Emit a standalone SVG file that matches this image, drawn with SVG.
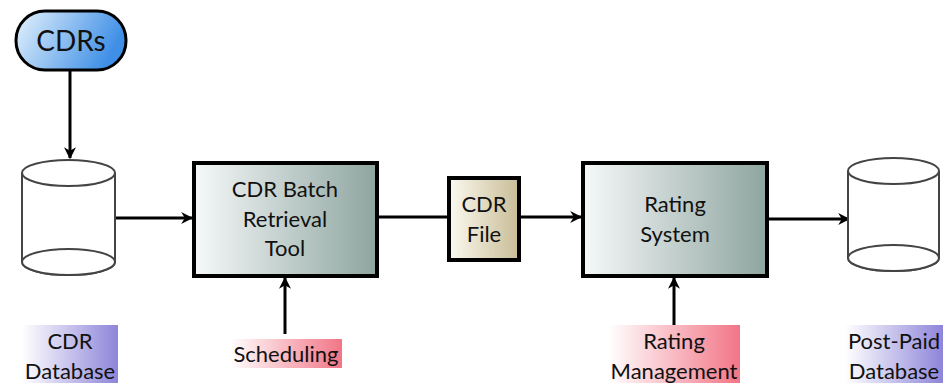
<svg xmlns="http://www.w3.org/2000/svg" width="949" height="386" viewBox="0 0 949 386">
  <defs>
    <linearGradient id="gBlue" x1="0" y1="0" x2="1" y2="0.3">
      <stop offset="0" stop-color="#e6f3fd"/>
      <stop offset="1" stop-color="#3f8fe6"/>
    </linearGradient>
    <linearGradient id="gSteel" x1="0" y1="0" x2="1" y2="0">
      <stop offset="0" stop-color="#f6f9f9"/>
      <stop offset="1" stop-color="#8ea59f"/>
    </linearGradient>
    <linearGradient id="gTan" x1="0" y1="0" x2="1" y2="0">
      <stop offset="0" stop-color="#fbf9f0"/>
      <stop offset="1" stop-color="#c9bd97"/>
    </linearGradient>
    <linearGradient id="gPurple" x1="0" y1="0" x2="1" y2="0">
      <stop offset="0" stop-color="#ffffff"/>
      <stop offset="1" stop-color="#8e85d9"/>
    </linearGradient>
    <linearGradient id="gPink" x1="0" y1="0" x2="1" y2="0">
      <stop offset="0" stop-color="#ffffff"/>
      <stop offset="1" stop-color="#f27586"/>
    </linearGradient>
    <marker id="arrow" viewBox="0 0 10 10" refX="9" refY="5" markerWidth="4" markerHeight="4" orient="auto" markerUnits="strokeWidth">
      <path d="M0,0 L10,5 L0,10 L3,5 Z" fill="#000"/>
    </marker>
  </defs>
  <style>
    text { font-family: "Lato", "Open Sans", "Liberation Sans", sans-serif; fill: #111; text-anchor: middle; }
    .lbl { font-size: 22px; }
    .box { stroke: #000; stroke-width: 4; }
    .cyl { fill: #fff; stroke: #444; stroke-width: 2; }
    .conn { stroke: #000; stroke-width: 3; fill: none; }
  </style>

  <rect width="949" height="386" fill="#fff"/>

  <!-- connectors -->
  <g id="connectors">
    <line class="conn" x1="70" y1="70" x2="70" y2="158" marker-end="url(#arrow)"/>
    <line class="conn" x1="115" y1="218" x2="192" y2="218" marker-end="url(#arrow)"/>
    <line class="conn" x1="377" y1="217" x2="448" y2="217"/>
    <line class="conn" x1="519" y1="217" x2="581" y2="217" marker-end="url(#arrow)"/>
    <line class="conn" x1="767" y1="219" x2="849" y2="219" marker-end="url(#arrow)"/>
    <line class="conn" x1="285" y1="334" x2="285" y2="278" marker-end="url(#arrow)"/>
    <line class="conn" x1="674" y1="326" x2="674" y2="278" marker-end="url(#arrow)"/>
  </g>

  <!-- source pill -->
  <g id="cdrs">
    <rect x="16" y="11" width="110" height="59" rx="29" fill="url(#gBlue)" stroke="#000" stroke-width="3"/>
    <text x="71" y="51" font-size="28">CDRs</text>
  </g>

  <!-- CDR database cylinder -->
  <g id="cdr-db">
    <path class="cyl" d="M22,173 L22,262 A46.5,13 0 0 0 115,262 L115,173"/>
    <ellipse class="cyl" cx="68.5" cy="262" rx="46.5" ry="13"/>
    <ellipse class="cyl" cx="68.5" cy="173" rx="46.5" ry="13"/>
  </g>

  <!-- batch retrieval tool -->
  <g id="batch-tool">
    <rect class="box" x="194" y="163" width="183" height="113" fill="url(#gSteel)"/>
    <text class="lbl" x="285" y="197">CDR Batch</text>
    <text class="lbl" x="285" y="227">Retrieval</text>
    <text class="lbl" x="285" y="256">Tool</text>
  </g>

  <!-- CDR file -->
  <g id="cdr-file">
    <rect class="box" x="449" y="178" width="70" height="82" fill="url(#gTan)"/>
    <text class="lbl" x="484" y="212">CDR</text>
    <text class="lbl" x="484" y="242">File</text>
  </g>

  <!-- rating system -->
  <g id="rating-system">
    <rect class="box" x="583" y="163" width="184" height="113" fill="url(#gSteel)"/>
    <text class="lbl" x="675" y="212">Rating</text>
    <text class="lbl" x="675" y="242">System</text>
  </g>

  <!-- post-paid database cylinder -->
  <g id="postpaid-db">
    <path class="cyl" d="M848,171 L848,258 A45.5,13 0 0 0 939,258 L939,171"/>
    <ellipse class="cyl" cx="893.5" cy="258" rx="45.5" ry="13"/>
    <ellipse class="cyl" cx="893.5" cy="171" rx="45.5" ry="13"/>
  </g>

  <!-- captions -->
  <g id="cdr-db-label">
    <rect x="22" y="325" width="96" height="58" fill="url(#gPurple)"/>
    <text class="lbl" x="70" y="349">CDR</text>
    <text class="lbl" x="70" y="379">Database</text>
  </g>

  <g id="scheduling">
    <rect x="230" y="339" width="112" height="29" fill="url(#gPink)"/>
    <text class="lbl" x="286" y="362">Scheduling</text>
  </g>

  <g id="rating-management">
    <rect x="608" y="325" width="132" height="58" fill="url(#gPink)"/>
    <text class="lbl" x="674" y="349">Rating</text>
    <text class="lbl" x="674" y="379">Management</text>
  </g>

  <g id="postpaid-label">
    <rect x="845" y="325" width="98" height="58" fill="url(#gPurple)"/>
    <text class="lbl" x="894" y="349">Post-Paid</text>
    <text class="lbl" x="894" y="379">Database</text>
  </g>
</svg>
